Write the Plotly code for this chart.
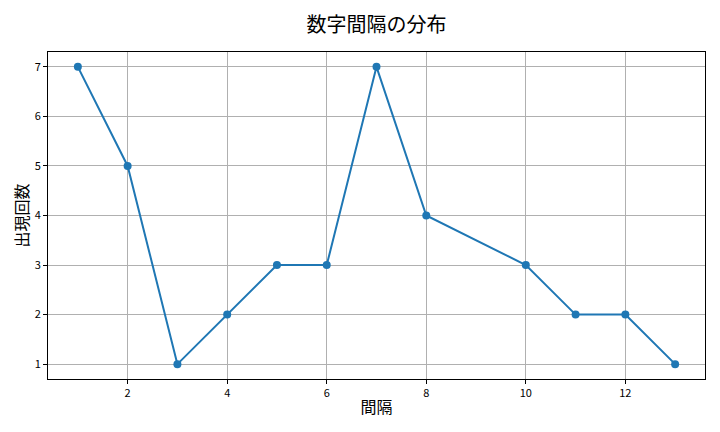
import plotly.graph_objs as go

# 数字間隔ごとの出現回数
intervals = [1, 2, 3, 4, 5, 6, 7, 8, 10, 11, 12, 13]
counts = [7, 5, 1, 2, 3, 3, 7, 4, 3, 2, 2, 1]

x_ticks = [2, 4, 6, 8, 10, 12]
y_ticks = [1, 2, 3, 4, 5, 6, 7]

font_jp = 'Noto Sans CJK JP'

trace = go.Scatter(x=intervals, y=counts, mode='lines+markers',
                   line=dict(color='#1f77b4', width=2),
                   marker=dict(color='#1f77b4', size=8),
                   showlegend=False)

axe_commun = dict(showline=True, linecolor='black', linewidth=1, mirror=True,
                  showgrid=True, gridcolor='#b0b0b0', gridwidth=1,
                  ticks='outside', ticklen=4, tickcolor='black',
                  tickfont=dict(family=font_jp, size=11, color='black'),
                  zeroline=False, automargin=False)

# la page garde une marge de 8 px autour de la figure
layout = go.Layout(
    width=712, height=424,
    paper_bgcolor='white', plot_bgcolor='white',
    margin=dict(l=40, r=15, t=44, b=53),
    title=dict(text='数字間隔の分布', x=0.5, xref='paper', xanchor='center',
               y=1 - 17 / 424, yref='container', yanchor='middle',
               font=dict(family=font_jp, size=20, color='black')),
    xaxis=dict(axe_commun, range=[0.4, 13.6], tickvals=x_ticks,
               title=dict(text='間隔', standoff=2, font=dict(family=font_jp, size=16, color='black'))),
    yaxis=dict(axe_commun, range=[0.7, 7.3], tickvals=y_ticks,
               title=dict(text='出現回数', standoff=2, font=dict(family=font_jp, size=16, color='black'))),
)

fig = go.Figure(data=[trace], layout=layout)
fig.write_html('out.html')
